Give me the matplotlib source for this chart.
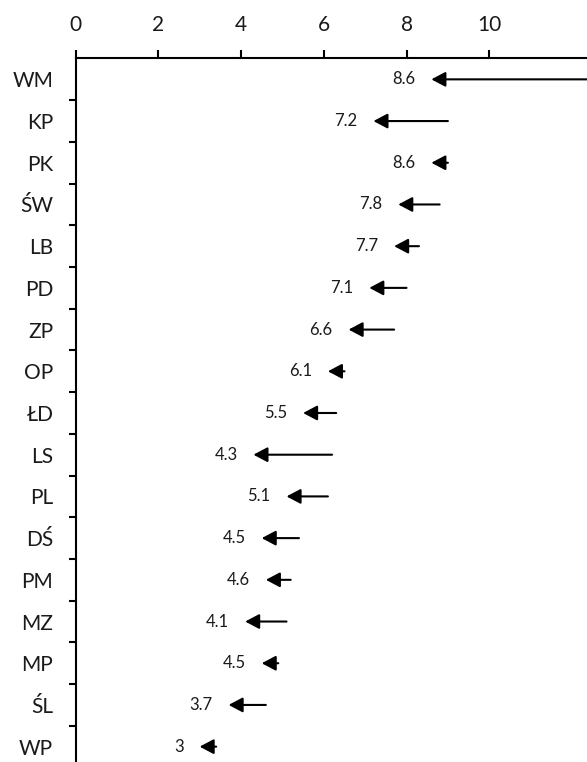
import matplotlib.pyplot as plt
import numpy as np

regions = ['WM', 'KP', 'PK', 'ŚW', 'LB', 'PD', 'ZP', 'OP', 'ŁD',
           'LS', 'PL', 'DŚ', 'PM', 'MZ', 'MP', 'ŚL', 'WP']
start_vals = [12.9, 9.0, 9.0, 8.8, 8.3, 8.0, 7.7, 6.5, 6.3,
              6.2, 6.1, 5.4, 5.2, 5.1, 4.9, 4.6, 3.4]
end_vals = [8.6, 7.2, 8.6, 7.8, 7.7, 7.1, 6.6, 6.1, 5.5,
            4.3, 5.1, 4.5, 4.6, 4.1, 4.5, 3.7, 3.0]

plt.rcParams['font.family'] = ['Lato', 'DejaVu Sans']

fig = plt.figure(figsize=(5.87, 7.62), dpi=100)
ax = fig.add_axes([75.5 / 587, 1 - 767.5 / 762, 1 - 75.5 / 587, (767.5 - 58.5) / 762])

ypos = np.arange(len(regions))
for y, s, e in zip(ypos, start_vals, end_vals):
    ax.annotate('', xy=(e, y), xytext=(s, y),
                arrowprops=dict(arrowstyle='-|>,head_length=0.85,head_width=0.45',
                                color='black', lw=1.5, shrinkA=0, shrinkB=0,
                                mutation_scale=10))
    ax.annotate('{:g}'.format(e), xy=(e, y), xytext=(-11.5, 0),
                textcoords='offset points', ha='right', va='center',
                fontsize=12, color='#1a1a1a')

ax.set_xlim(0, (587 - 75.5) / 41.38)
ax.set_ylim(len(regions) - 0.5, -0.5)

ax.xaxis.tick_top()
ax.set_xticks([0, 2, 4, 6, 8, 10])
ax.tick_params(axis='x', direction='out', length=6, width=1.5, pad=11,
               labelsize=15, labelcolor='#1a1a1a')

ax.set_yticks(ypos, regions)
ax.set_yticks(ypos[:-1] + 0.5, minor=True)
ax.tick_params(axis='y', which='major', length=0, pad=16, labelsize=15,
               labelcolor='#1a1a1a')
ax.tick_params(axis='y', which='minor', direction='out', length=5, width=1.5)

for side in ['right', 'bottom']:
    ax.spines[side].set_visible(False)
for side in ['top', 'left']:
    ax.spines[side].set_linewidth(1.5)

fig.savefig('out.png', dpi=100)
